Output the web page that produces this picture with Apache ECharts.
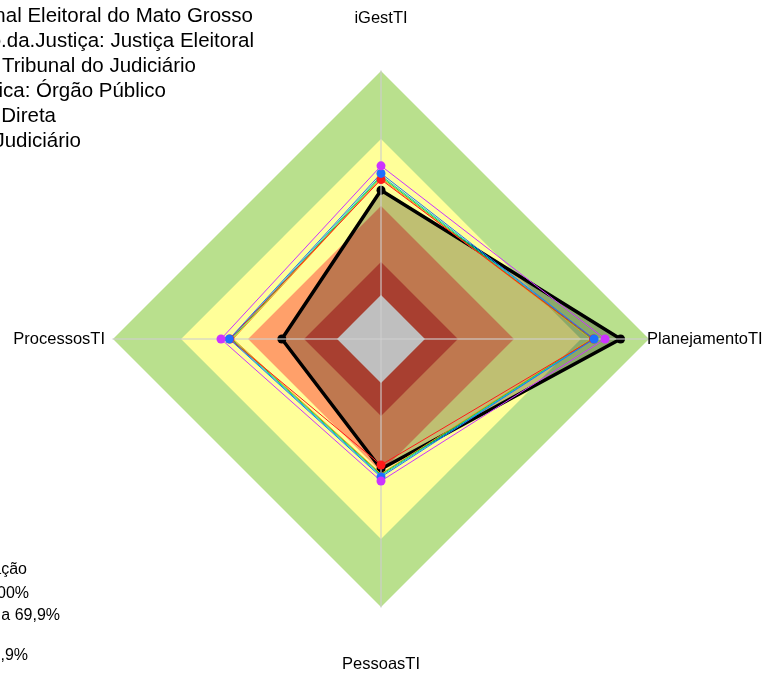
<!DOCTYPE html>
<html>
<head>
<meta charset="utf-8">
<script src="https://cdn.jsdelivr.net/npm/echarts@6/dist/echarts.min.js"></script>
<style>
html,body{margin:0;padding:0;background:#fff;}
#chart{width:762px;height:673px;}
</style>
</head>
<body>
<div id="chart"></div>
<script>
// Indicators (ECharts radar places them counter-clockwise from the top)
const indicators = ['iGestTI', 'ProcessosTI', 'PessoasTI', 'PlanejamentoTI'];
// Classification bands (outer limit of each band, % of scale)
const bandLevels = [100, 74.6, 49.6, 28.7, 16.4];
// Series values, in indicator order
const tribunal    = [55.5, 37.0, 48.5, 89.4];
const serieLaranja  = [60.0, 55.2, 50.3, 78.4];
const serieVerde    = [60.5, 55.7, 50.6, 78.8];
const serieCiano    = [61.0, 56.2, 51.0, 79.2];
const serieVermelha = [59.5, 56.4, 47.0, 79.3];
const serieAzul     = [61.8, 56.6, 51.5, 79.5];
const serieMagenta  = [64.6, 59.7, 53.0, 83.6];
// Texts
const infoLines = [
  'Tribunal Regional Eleitoral do Mato Grosso',
  'Segmento.da.Justiça: Justiça Eleitoral',
  'Tipo.Unidade: Tribunal do Judiciário',
  'Natureza.Jurídica: Órgão Público',
  'Administração: Direta',
  'Poder.Estatal: Judiciário'
];
const legendLines = [
  'Classificação',
  'Aprimorado: 70 a 100%',
  'Intermediário: 40 a 69,9%',
  'Iniciando: 15 a 39,9%'
];

// styles (not data)
const bandColors = ['#B9E08D', '#FFFF99', '#FFA06A', '#E05540', '#FFFFFF'];
const infoRight = [253, 254, 196, 166, 56, 81];
const legendRight = [27, 29, 60, 28];
const legendY = [570, 594, 616, 656];

const chart = echarts.init(document.getElementById('chart'), null, {renderer: 'canvas'});

const series = [];
bandLevels.forEach((lv, i) => {
  series.push({
    type: 'radar', z: 1, silent: true, symbol: 'none',
    lineStyle: {width: 0, opacity: 0},
    areaStyle: {color: bandColors[i], opacity: 1},
    data: [{value: indicators.map(() => lv)}]
  });
});
series.push({
  type: 'radar', z: 2, symbol: 'circle', symbolSize: 9,
  lineStyle: {color: '#000', width: 3.5},
  itemStyle: {color: '#000'},
  areaStyle: {color: 'rgba(0,0,0,0.25)', opacity: 1},
  data: [{value: tribunal}]
});
const thin = [
  [serieLaranja, '#FF8C1A', false],
  [serieVerde, '#33CC33', false],
  [serieCiano, '#00C8C8', false],
  [serieVermelha, '#FF1A1A', true],
  [serieAzul, '#1E6FFF', true],
  [serieMagenta, '#CC33FF', true]
];
thin.forEach(([vals, col, dots]) => {
  series.push({
    type: 'radar', z: 4, symbol: dots ? 'circle' : 'none', symbolSize: 9,
    lineStyle: {color: col, width: 1},
    itemStyle: {color: col},
    data: [{value: vals}]
  });
});

const graphics = [];
infoLines.forEach((t, i) => {
  graphics.push({
    type: 'text', x: infoRight[i], y: 16 + 25 * i,
    style: {text: t, align: 'right', verticalAlign: 'middle', fill: '#000',
            font: '20.5px "Liberation Sans", Arial, sans-serif'}
  });
});
legendLines.forEach((t, i) => {
  graphics.push({
    type: 'text', x: legendRight[i], y: legendY[i],
    style: {text: t, align: 'right', verticalAlign: 'middle', fill: '#000',
            font: '16px "Liberation Sans", Arial, sans-serif'}
  });
});

chart.setOption({
  animation: false,
  backgroundColor: '#fff',
  radar: {
    center: [381, 339],
    radius: 268,
    startAngle: 90,
    shape: 'polygon',
    splitNumber: 1,
    z: 3,
    nameGap: -2,
    indicator: indicators.map(n => ({name: n, min: 0, max: 100})),
    axisName: {
      color: '#000', fontSize: 16.5, fontFamily: '"Liberation Sans", Arial, sans-serif',
      formatter: (name) => {
        if (name === 'iGestTI') return '{t|' + name + '}';
        if (name === 'PessoasTI') return '{b|' + name + '}';
        if (name === 'ProcessosTI') return '{l|' + name + '}';
        return '{r|' + name + '}';
      },
      rich: {
        t: {padding: [0, 0, 46, 0], fontSize: 16.5, color: '#000'},
        b: {padding: [51, 0, 0, 0], fontSize: 16.5, color: '#000'},
        l: {padding: [0, 10, 0, 0], fontSize: 16.5, color: '#000'},
        r: {padding: [0, 0, 0, 0], fontSize: 16.5, color: '#000'}
      }
    },
    axisLine: {lineStyle: {color: 'rgba(205,205,205,0.75)', width: 1.5}},
    splitLine: {show: false},
    splitArea: {show: false},
    axisTick: {show: false},
    axisLabel: {show: false}
  },
  graphic: graphics,
  series: series
});
</script>
</body>
</html>
